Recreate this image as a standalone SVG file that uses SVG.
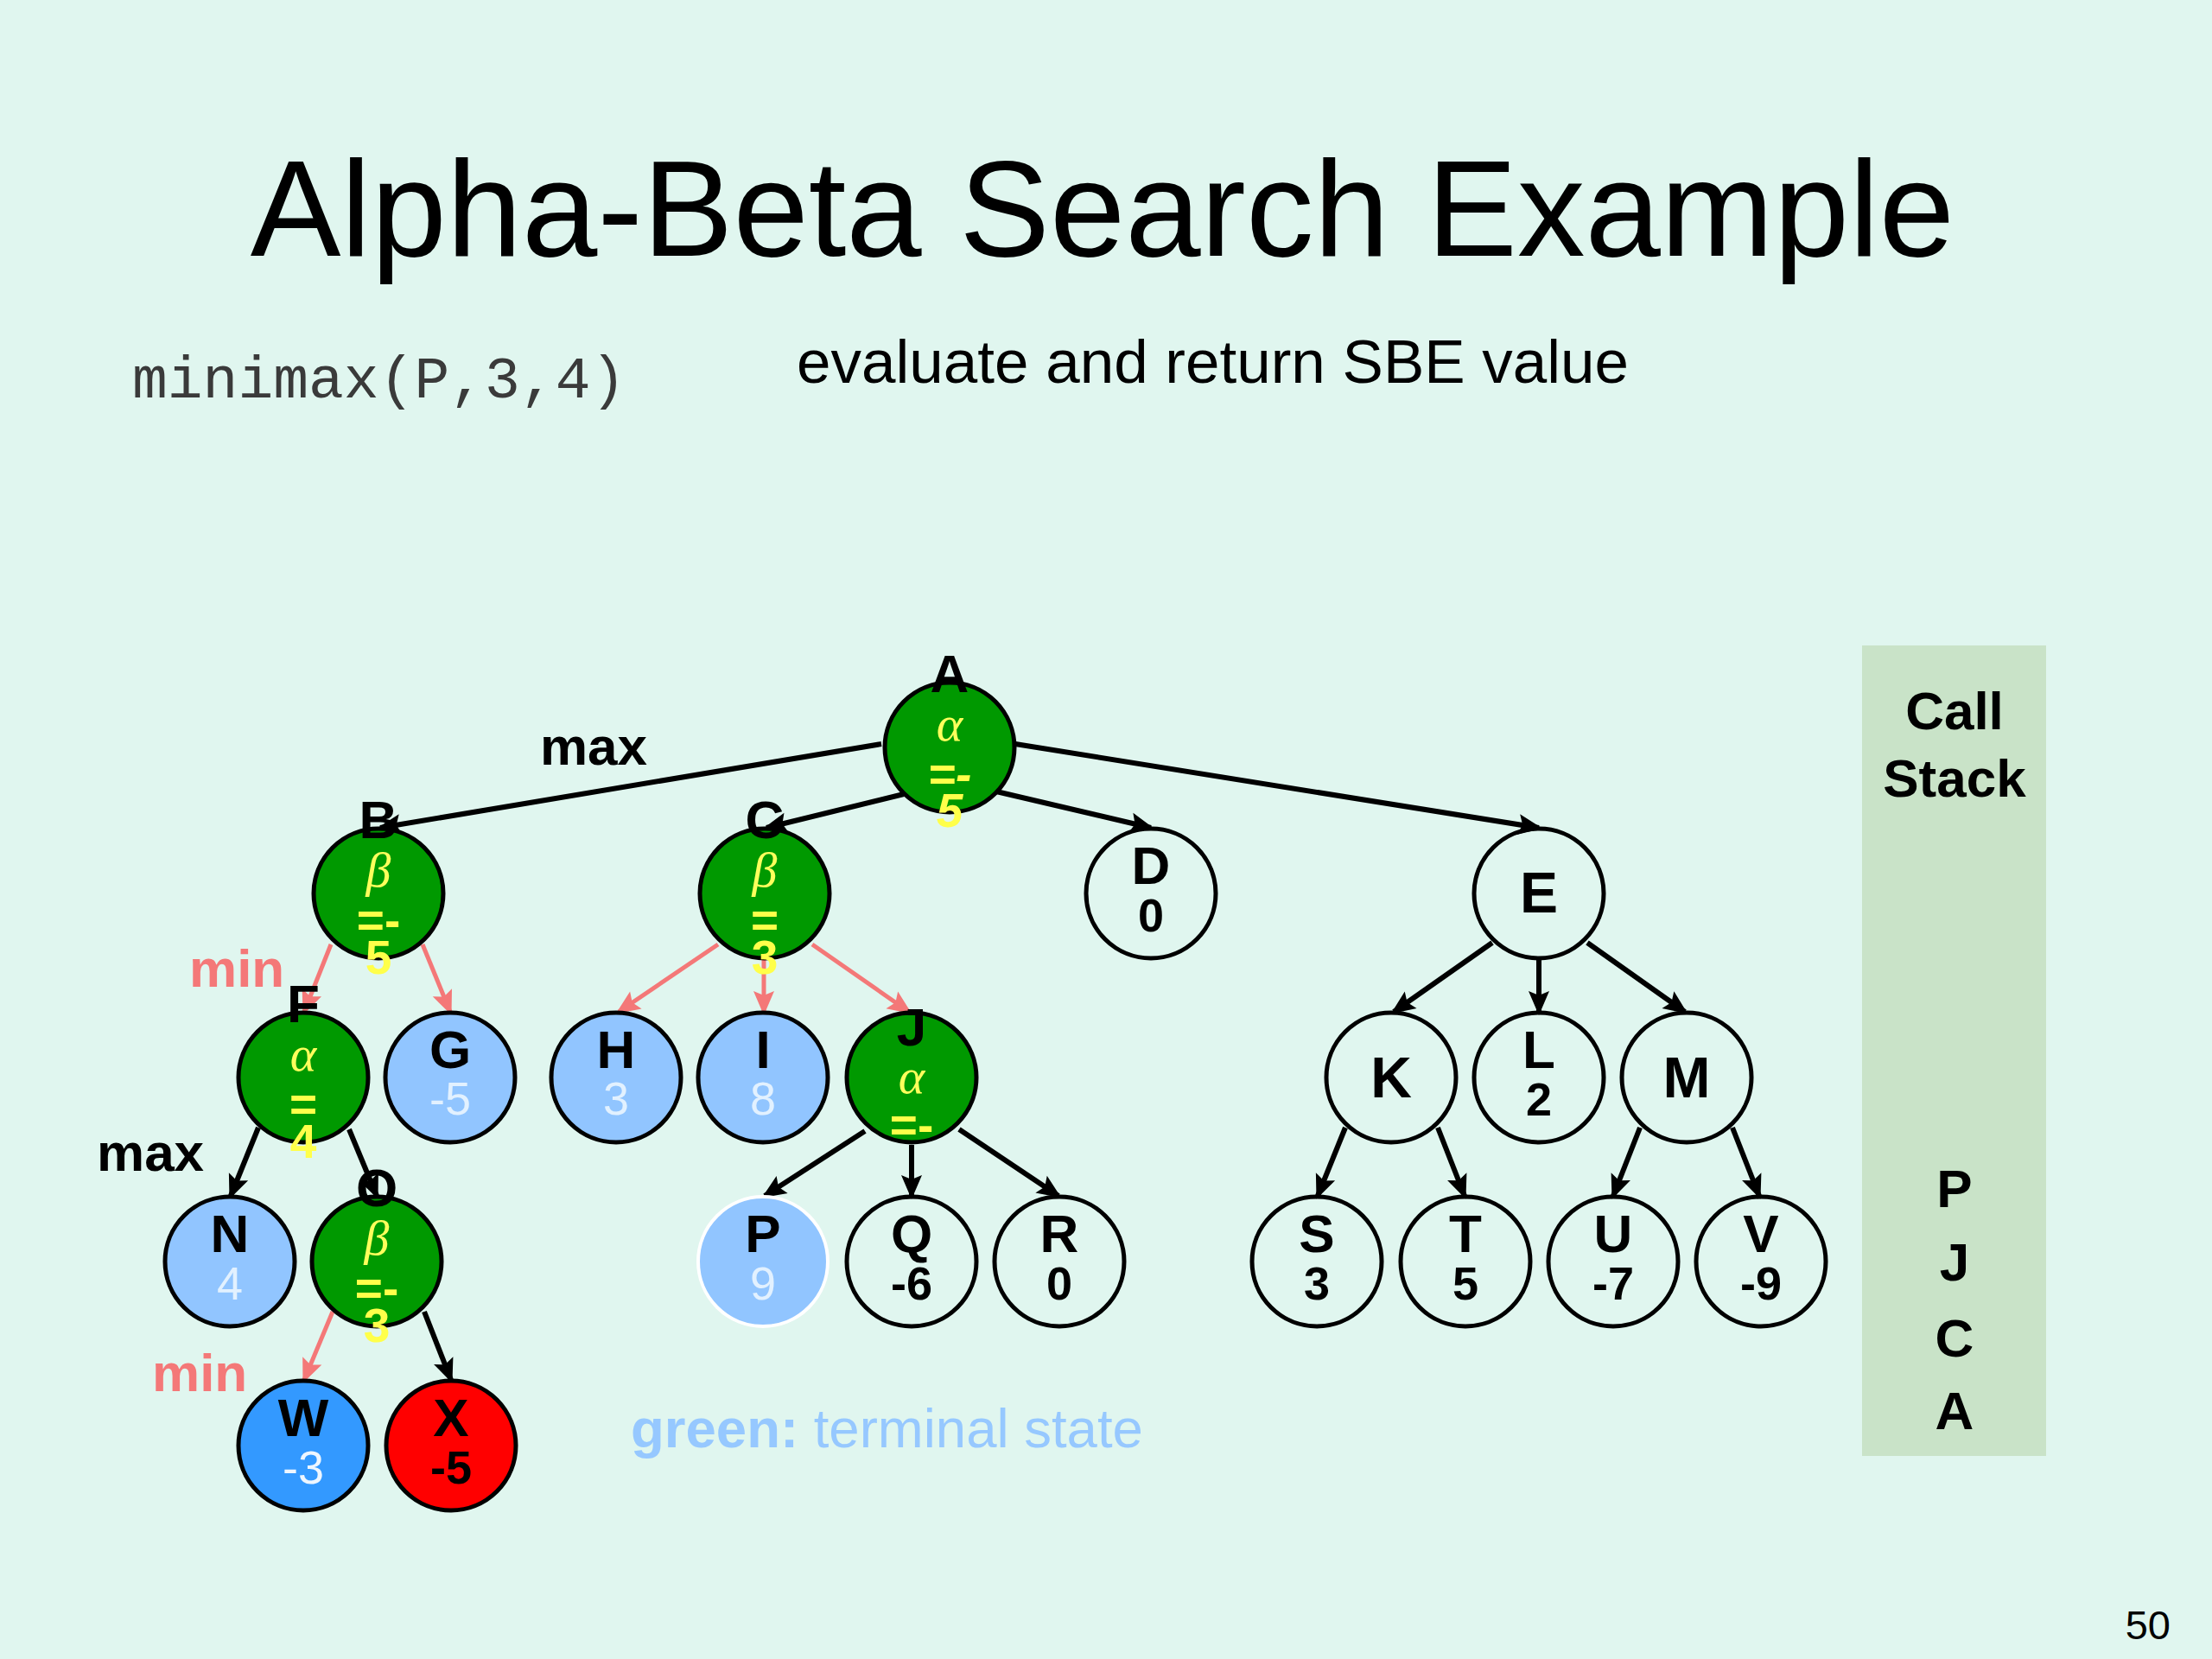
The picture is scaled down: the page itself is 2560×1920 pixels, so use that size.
<svg xmlns="http://www.w3.org/2000/svg" width="2560" height="1920" viewBox="0 0 2560 1920">
<defs>
<style>
.sans{font-family:"Liberation Sans",Arial,sans-serif}
.lab{font-family:"Liberation Sans",Arial,sans-serif;font-weight:bold;font-size:62px;text-anchor:middle;fill:#000}
.big{font-family:"Liberation Sans",Arial,sans-serif;font-weight:bold;font-size:66px;text-anchor:middle;fill:#000}
.valb{font-family:"Liberation Sans",Arial,sans-serif;font-weight:bold;font-size:54px;text-anchor:middle;fill:#000}
.vall{font-family:"Liberation Sans",Arial,sans-serif;font-size:54px;text-anchor:middle;fill:#e2f1ff}
.greek{font-family:"Liberation Serif","Times New Roman",serif;font-style:italic;font-size:58px;text-anchor:middle;fill:#ffff5c}
.gv{font-family:"Liberation Sans",Arial,sans-serif;font-weight:bold;font-size:55px;text-anchor:middle;fill:#ffff4a}
.it{font-style:italic}
circle{stroke:#000;stroke-width:5}
.green{fill:#009900}
.white{fill:none}
.lblue{fill:#91c5ff}
.dblue{fill:#3399ff}
.red{fill:#ff0000}
.edge{stroke:#000;stroke-width:6;fill:none;marker-end:url(#ab)}
.pedge{stroke:#f47878;stroke-width:5;fill:none;marker-end:url(#ap)}
</style>
<marker id="ab" markerUnits="userSpaceOnUse" markerWidth="30" markerHeight="26" refX="24" refY="12" orient="auto" overflow="visible">
<path d="M0,0 L28,12 L0,24 L5,12 z" fill="#000"/>
</marker>
<marker id="ap" markerUnits="userSpaceOnUse" markerWidth="30" markerHeight="26" refX="24" refY="12" orient="auto" overflow="visible">
<path d="M0,0 L28,12 L0,24 L5,12 z" fill="#f47878"/>
</marker>
</defs>
<rect x="0" y="0" width="2560" height="1920" fill="#e0f6ef"/>

<text x="1276" y="296" class="sans" font-size="157" text-anchor="middle" fill="#000">Alpha-Beta Search Example</text>
<text x="153" y="460" font-family="'Liberation Mono','Courier New',monospace" font-size="68" fill="#3a3a3a">minimax(P,3,4)</text>
<text x="922" y="443" class="sans" font-size="71" fill="#000">evaluate and return SBE value</text>

<rect id="callstack" x="2155" y="747" width="213" height="938" fill="#c9e3c8"/>
<g id="callstack-text" class="sans" font-weight="bold" font-size="62" text-anchor="middle" fill="#000">
<text x="2262" y="844">Call</text>
<text x="2262" y="922">Stack</text>
<text x="2262" y="1397">P</text>
<text x="2262" y="1482">J</text>
<text x="2262" y="1570">C</text>
<text x="2262" y="1654">A</text>
</g>

<g id="labels" class="sans" font-weight="bold" font-size="62">
<text x="687" y="885" text-anchor="middle" fill="#000">max</text>
<text x="219" y="1142" fill="#f47878">min</text>
<text x="112" y="1355" fill="#000">max</text>
<text x="176" y="1610" fill="#f47878">min</text>
</g>
<text x="730" y="1675" class="sans" font-size="63.5" fill="#96c8ff"><tspan font-weight="bold">green:</tspan> terminal state</text>
<text x="2512" y="1897" class="sans" font-size="47" text-anchor="end" fill="#000">50</text>

<g id="connectors">
<line class="edge" x1="1020" y1="861" x2="440" y2="958"/>
<line class="edge" x1="1046" y1="919" x2="887" y2="958"/>
<line class="edge" x1="1153" y1="916" x2="1332" y2="958"/>
<line class="edge" x1="1175" y1="861" x2="1781" y2="958"/>
<line class="pedge" x1="383" y1="1093" x2="352" y2="1171"/>
<line class="pedge" x1="489" y1="1093" x2="521" y2="1171"/>
<line class="pedge" x1="831" y1="1093" x2="716" y2="1171"/>
<line class="pedge" x1="884" y1="1111" x2="884" y2="1171"/>
<line class="pedge" x1="940" y1="1093" x2="1052" y2="1171"/>
<line class="edge" x1="299" y1="1305" x2="267" y2="1384"/>
<line class="edge" x1="404" y1="1307" x2="436" y2="1384"/>
<line class="pedge" x1="385" y1="1518" x2="352" y2="1597"/>
<line class="edge" x1="491" y1="1518" x2="522" y2="1597"/>
<line class="edge" x1="1001" y1="1309" x2="885" y2="1384"/>
<line class="edge" x1="1055" y1="1325" x2="1055" y2="1384"/>
<line class="edge" x1="1110" y1="1307" x2="1225" y2="1384"/>
<line class="edge" x1="1727" y1="1091" x2="1613" y2="1171"/>
<line class="edge" x1="1781" y1="1111" x2="1781" y2="1171"/>
<line class="edge" x1="1837" y1="1091" x2="1950" y2="1171"/>
<line class="edge" x1="1557" y1="1305" x2="1525" y2="1384"/>
<line class="edge" x1="1664" y1="1305" x2="1695" y2="1384"/>
<line class="edge" x1="1898" y1="1305" x2="1867" y2="1384"/>
<line class="edge" x1="2005" y1="1305" x2="2036" y2="1384"/>
</g>

<g id="node-A">
<circle cx="1099" cy="865" r="75" class="green"/>
<text x="1099" y="801" class="lab">A</text>
<text x="1099" y="857" class="greek">α</text>
<text x="1099" y="915" class="gv it">=-</text>
<text x="1099" y="957" class="gv it">5</text>
</g>
<g id="node-B">
<circle cx="438" cy="1034" r="75" class="green"/>
<text x="438" y="970" class="lab">B</text>
<text x="438" y="1026" class="greek">β</text>
<text x="438" y="1084" class="gv">=-</text>
<text x="438" y="1127" class="gv">5</text>
</g>
<g id="node-C">
<circle cx="885" cy="1034" r="75" class="green"/>
<text x="885" y="970" class="lab">C</text>
<text x="885" y="1026" class="greek">β</text>
<text x="885" y="1084" class="gv">=</text>
<text x="885" y="1127" class="gv">3</text>
</g>
<g id="node-D">
<circle cx="1332" cy="1034" r="75" class="white"/>
<text x="1332" y="1023" class="lab">D</text>
<text x="1332" y="1078" class="valb">0</text>
</g>
<g id="node-E">
<circle cx="1781" cy="1034" r="75" class="white"/>
<text x="1781" y="1056" class="big">E</text>
</g>
<g id="node-F">
<circle cx="351" cy="1247" r="75" class="green"/>
<text x="351" y="1183" class="lab">F</text>
<text x="351" y="1239" class="greek">α</text>
<text x="351" y="1297" class="gv">=</text>
<text x="351" y="1340" class="gv">4</text>
</g>
<g id="node-G">
<circle cx="521" cy="1247" r="75" class="lblue"/>
<text x="521" y="1236" class="lab">G</text>
<text x="521" y="1290" class="vall">-5</text>
</g>
<g id="node-H">
<circle cx="713" cy="1247" r="75" class="lblue"/>
<text x="713" y="1236" class="lab">H</text>
<text x="713" y="1290" class="vall">3</text>
</g>
<g id="node-I">
<circle cx="883" cy="1247" r="75" class="lblue"/>
<text x="883" y="1236" class="lab">I</text>
<text x="883" y="1290" class="vall">8</text>
</g>
<g id="node-J">
<circle cx="1055" cy="1247" r="75" class="green"/>
<text x="1055" y="1210" class="lab">J</text>
<text x="1055" y="1265" class="greek">α</text>
<text x="1055" y="1321" class="gv">=-</text>
</g>
<g id="node-K">
<circle cx="1610" cy="1247" r="75" class="white"/>
<text x="1610" y="1270" class="big">K</text>
</g>
<g id="node-L">
<circle cx="1781" cy="1247" r="75" class="white"/>
<text x="1781" y="1236" class="lab">L</text>
<text x="1781" y="1291" class="valb">2</text>
</g>
<g id="node-M">
<circle cx="1952" cy="1247" r="75" class="white"/>
<text x="1952" y="1270" class="big">M</text>
</g>
<g id="node-N">
<circle cx="266" cy="1460" r="75" class="lblue"/>
<text x="266" y="1449" class="lab">N</text>
<text x="266" y="1504" class="vall">4</text>
</g>
<g id="node-O">
<circle cx="436" cy="1460" r="75" class="green"/>
<text x="436" y="1396" class="lab">O</text>
<text x="436" y="1452" class="greek">β</text>
<text x="436" y="1510" class="gv">=-</text>
<text x="436" y="1553" class="gv">3</text>
</g>
<g id="node-P">
<circle cx="883" cy="1460" r="75" class="lblue" style="stroke:#ffffff;stroke-width:4"/>
<text x="883" y="1449" class="lab">P</text>
<text x="883" y="1504" class="vall">9</text>
</g>
<g id="node-Q">
<circle cx="1055" cy="1460" r="75" class="white"/>
<text x="1055" y="1449" class="lab">Q</text>
<text x="1055" y="1504" class="valb">-6</text>
</g>
<g id="node-R">
<circle cx="1226" cy="1460" r="75" class="white"/>
<text x="1226" y="1449" class="lab">R</text>
<text x="1226" y="1504" class="valb">0</text>
</g>
<g id="node-S">
<circle cx="1524" cy="1460" r="75" class="white"/>
<text x="1524" y="1449" class="lab">S</text>
<text x="1524" y="1504" class="valb">3</text>
</g>
<g id="node-T">
<circle cx="1696" cy="1460" r="75" class="white"/>
<text x="1696" y="1449" class="lab">T</text>
<text x="1696" y="1504" class="valb">5</text>
</g>
<g id="node-U">
<circle cx="1867" cy="1460" r="75" class="white"/>
<text x="1867" y="1449" class="lab">U</text>
<text x="1867" y="1504" class="valb">-7</text>
</g>
<g id="node-V">
<circle cx="2038" cy="1460" r="75" class="white"/>
<text x="2038" y="1449" class="lab">V</text>
<text x="2038" y="1504" class="valb">-9</text>
</g>
<g id="node-W">
<circle cx="351" cy="1673" r="75" class="dblue"/>
<text x="351" y="1662" class="lab">W</text>
<text x="351" y="1717" class="vall" style="fill:#eef6ff">-3</text>
</g>
<g id="node-X">
<circle cx="522" cy="1673" r="75" class="red"/>
<text x="522" y="1662" class="lab">X</text>
<text x="522" y="1717" class="valb">-5</text>
</g>
</svg>
